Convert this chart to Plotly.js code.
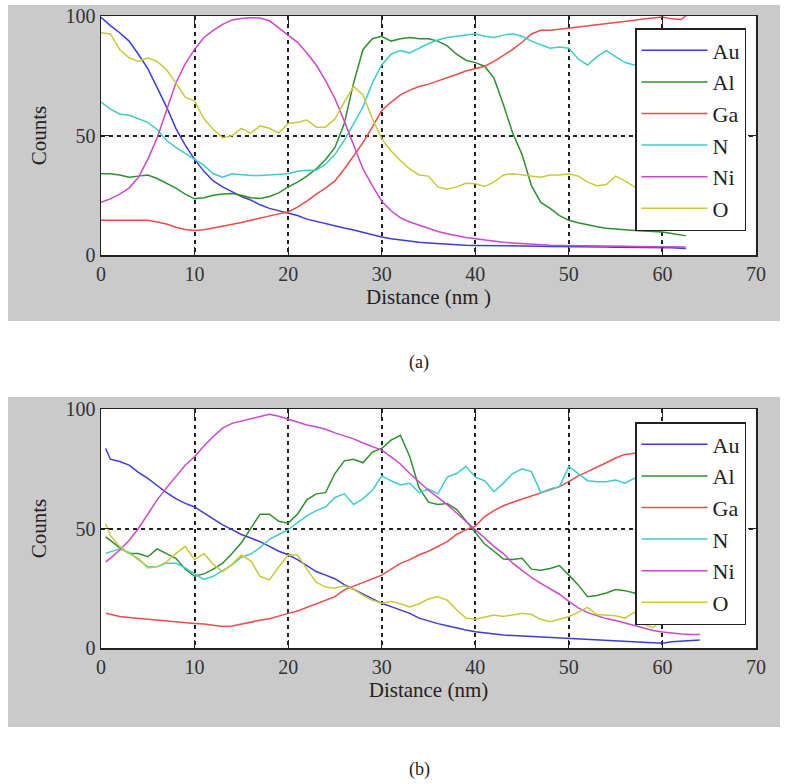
<!DOCTYPE html>
<html>
<head>
<meta charset="utf-8">
<script src="https://cdn.plot.ly/plotly-3.0.1.min.js"></script>
<style>html,body{margin:0;padding:0;background:#fff;}#chart{width:787px;height:784px;}</style>
</head>
<body>
<div id="chart"></div>
<script>
// ---------- data ----------
const elements = ["Au", "Al", "Ga", "N", "Ni", "O"];
const colors = ["#3b3be0", "#2e8f2e", "#ef4a4a", "#3fcccc", "#cc47cc", "#c9c93a"];
const xTicks = [0, 10, 20, 30, 40, 50, 60, 70];
const yTicks = [0, 50, 100];

// panel (a)
const distA = [0,1,2,3,4,5,6,7,8,9,10,11,12,13,14,15,16,17,18,19,20,21,22,23,24,25,26,27,28,29,30,31,32,33,34,35,36,37,38,39,40,41,42,43,44,45,46,47,48,49,50,51,52,53,54,55,56,57,58,59,60,61,62,62.5];
const auA = [99.5,96,93,89.5,84,78,70,62,53,46, 40,35,31,28.5,26.5,24.5,23,21,19.5,18.5, 17.5,16.5,15,14,13,12,11.3,10.5,9.5,8.3, 7.5,6.8,6.2,5.6,5.3,5,4.7,4.5,4.3,4.1, 4,4,3.9,3.9,3.8,3.8,3.7,3.7,3.6,3.6, 3.5,3.4,3.4,3.3,3.3,3.2,3.2,3.2,3.1,3.1, 3,3,2.8,2.7];
const alA = [34,34,33.5,32.5,33,33.5,32,30,28,25.5, 23.5,24,25,25.5,25.7,25,24,23.6,24.5,26, 28.5,30.5,33,36,40,45,55,72,86,90.5, 91.5,89.5,90.5,91,90.5,90.5,89.5,87.5,84,81.5, 80.5,79,74,63,51,42,29,22,19.5,16.5, 14.5,13.5,12.5,11.8,11.2,10.8,10.5,10.3,10,9.8, 9.6,9,8.5,8];
const gaA = [14.5,14.5,14.5,14.5,14.5,14.5,13.8,13,11.6,10.7, 10.3,10.6,11.3,12,12.8,13.6,14.5,15.5,16.4,17.2, 18,20,22.5,25.5,28,31,36,41.5,47,53.5, 60.5,64,67,69,70.5,71.5,72.8,74,75.5,77, 78,79,81,83.5,86,89,92.5,94,94,94.5, 95,95.5,96,96.5,97,97.5,98,98.2,98.7,99.2, 99.6,98.8,98.5,100];
const nA = [64,61,59,58.5,57,55.5,52.5,48,45,42.5, 40.3,37.5,34,32.5,34,33.5,33.3,33.3,33.5,33.5, 34,35,35.5,35.5,38,42,48,55,62,72, 79.5,84,85.5,84.5,86.5,88.5,90,91,91.5,92, 92.6,91.5,91,92,92.6,91.5,89.5,88,86.5,87, 86.5,82,79.5,83,85.5,83,80.5,79.5,79,80, 80,79,80,80];
const niA = [22,23.5,25.5,28,32.5,40,49,60.5,72,80, 86,91,94,96.5,98.3,99,99.3,99.2,98,95, 92,89,84.5,79.5,73,65.5,56,46,36,29, 22.5,18.5,15.5,13.8,12.4,11,9.8,8.9,8,7.3, 6.8,6.2,5.7,5.3,5,4.7,4.5,4.3,4.1,4, 4,3.9,3.9,3.8,3.8,3.7,3.7,3.6,3.6,3.5, 3.5,3.4,3.3,3.3];
const oA = [93,92.5,86,82.5,81,82.5,81,77.5,72,66, 64.5,57,52.5,49,50,53,51,54,53,51, 55,55.5,56.5,53.5,53.5,57,64,70.5,67,57, 48.7,43.5,39.5,36,33.5,33,28.5,27.5,28.5,30, 29.8,28.7,30.5,33.5,34,33.5,33,32.5,33.5,33.5, 34,33,30.5,29,29.5,33,31,28.5,28,27.5, 28,27,27.5,27];

// panel (b)
const distB = [0.5,1,2,3,4,5,6,7,8,9,10,11,12,13,14,15,16,17,18,19,20,21,22,23,24,25,26,27,28,29,30,31,32,33,34,35,36,37,38,39,40,41,42,43,44,45,46,47,48,49,50,51,52,53,54,55,56,57,58,59,60,61,62,63,64];
const auB = [83.5, 79,78,76.5,73.5,71,68,65,62.5,60.5, 59,56.5,54,51.5,49.5,47.5,46,44.5,42.5,40.5, 39,37,34.5,32,30.5,29,26.5,24.5,22.5,20.5, 18.7,17.3,16,14.5,12.5,11.3,10.2,9.3,8.3,7.5, 6.8,6.3,5.7,5.4,5.2,5,4.8,4.6,4.4,4.2, 4,3.8,3.6,3.4,3.3,3.2,3,2.8,2.6,2.3, 2,2.6,2.8,3,3.3];
const alB = [46.5, 45,42,39.5,39.5,38.2,41.5,39.5,37.5,33, 30,31,33,35.5,39.5,44,50,56,56,53, 52.2,56,62,64.5,65,73,78.3,79,77.5,82, 83.5,87,89,80,67,61,60,60.5,58,53, 48,43.5,40.5,37.2,37,37.5,33,32.5,33.3,34.5, 30.5,26.4,21.5,22,23,24.5,24,23,21,19, 17,15,13.5,12,11.5];
const gaB = [14.5, 14,13.2,12.8,12.4,12,11.7,11.3,11,10.7, 10.3,10,9.5,9,9.2,10,11,11.6,12.2,13.5, 14.5,15.5,17,18.5,20,21.5,24.3,25.8,27.2,29, 30.5,33,35.4,37,39,40.5,42.5,44.5,47.5,49.5, 51,55,57.5,59.5,61,62.3,63.5,65,66.3,67.5, 69.6,72,73.8,75.5,77.5,79.5,81,81.5,83,84, 85,86,86.5,87,87.5];
const nB = [39.6, 40.3,41.5,40,37,34,34,35.5,35.5,33.5, 31,28.7,30,32.3,34.8,38,39.3,42,45.5,47.5, 49.4,52.5,55.3,57.5,59,63,64.5,60,62.5,66, 72,70,68.2,68.9,65,66.5,64.5,71.5,73,76, 71.5,70,65.4,69,73,75,73.8,65,66.5,67.5, 76,73,70,69.6,69.6,70.3,69,71,70.5,69, 71,70,69.5,70.5,70];
const niB = [36, 37.5,41,45,50,56,62,67,72,76.5, 80,84.5,88.5,92,94,95,96,96.8,97.8,97, 95.8,94.3,93.3,92.6,91.5,90,88.8,87.5,85.8,84.3, 82.8,80,77,73,69.5,66,63,60,56.5,53, 49.5,46,42.5,39.5,35.5,32.5,29.5,27,24.8,22.5, 19.5,16.8,14.8,13.5,12.3,11.5,10.5,9.5,8.3,7.3, 6.7,6.2,5.9,5.7,5.6];
const oB = [52, 47,42.5,39.5,37.5,33.5,34,36,39.5,42.5, 37,39.5,35,32,35,38.9,36.5,30,28.5,34, 38.9,38.9,33,27.5,25.5,25,26,24.5,22,20, 18.7,19.4,18.5,17.2,18.5,20.5,21.5,20,16,12.5, 12,13,13.8,13.2,14,14.5,14,12,11,12, 13.1,15,17,14,13.8,13.5,12.5,15,10,8.5, 12,14,15,15,15];

const seriesA = [auA, alA, gaA, nA, niA, oA];
const seriesB = [auB, alB, gaB, nB, niB, oB];

// ---------- traces ----------
const traces = [];
elements.forEach((el, i) => {
  traces.push({x: distA, y: seriesA[i], type: "scatter", mode: "lines", name: el,
    xaxis: "x", yaxis: "y", legend: "legend",
    line: {color: colors[i], width: 1.5}});
});
elements.forEach((el, i) => {
  traces.push({x: distB, y: seriesB[i], type: "scatter", mode: "lines", name: el,
    xaxis: "x2", yaxis: "y2", legend: "legend2",
    line: {color: colors[i], width: 1.5}});
});

// ---------- layout ----------
const W = 787, H = 784;
const px = v => v / W;
const py = v => 1 - v / H;
const serif = "'Liberation Serif', 'Times New Roman', serif";

function xAxis(anchor, titleText) {
  return {
    anchor: anchor, domain: [px(101), px(756)], range: [0, 70],
    tickvals: xTicks, ticktext: xTicks.map(String),
    ticks: "inside", ticklen: 8, tickwidth: 1, tickcolor: "#222",
    showline: true, mirror: "ticks", linecolor: "#222", linewidth: 1.5,
    showgrid: true, gridcolor: "#222", gridwidth: 2, griddash: "4px,4px",
    zeroline: false, automargin: false, fixedrange: true,
    tickfont: {family: serif, size: 20, color: "#333"},
    title: {text: titleText, font: {family: serif, size: 21, color: "#222"}, standoff: 6}
  };
}
function yAxis(anchor, top, bottom) {
  return {
    anchor: anchor, domain: [py(bottom), py(top)], range: [0, 100],
    tickvals: yTicks, ticktext: yTicks.map(String),
    ticks: "inside", ticklen: 8, tickwidth: 1, tickcolor: "#222",
    showline: true, mirror: "ticks", linecolor: "#222", linewidth: 1.5,
    showgrid: true, gridcolor: "#222", gridwidth: 2, griddash: "4px,4px",
    zeroline: false, automargin: false, fixedrange: true,
    tickfont: {family: serif, size: 20, color: "#333"},
    title: {text: "Counts", font: {family: serif, size: 21, color: "#222"}, standoff: 13}
  };
}
function legendAt(top) {
  return {
    x: px(635), y: py(top), xanchor: "left", yanchor: "top",
    bgcolor: "#ffffff", bordercolor: "#222", borderwidth: 1.5,
    font: {family: serif, size: 22, color: "#222"},
    itemwidth: 66, tracegroupgap: 0
  };
}

const layout = {
  width: W, height: H,
  margin: {l: 0, r: 0, t: 0, b: 0},
  paper_bgcolor: "#ffffff", plot_bgcolor: "#ffffff",
  font: {family: serif, color: "#222"},
  showlegend: true,
  xaxis: xAxis("y", "Distance (nm )"),
  yaxis: yAxis("x", 16, 255),
  xaxis2: xAxis("y2", "Distance (nm)"),
  yaxis2: yAxis("x2", 409, 648),
  legend: legendAt(28),
  legend2: legendAt(422),
  shapes: [
    {type: "rect", xref: "paper", yref: "paper", x0: px(8), x1: px(780), y0: py(321), y1: py(5),
     fillcolor: "#cacaca", line: {width: 0}, layer: "below"},
    {type: "rect", xref: "paper", yref: "paper", x0: px(8), x1: px(780), y0: py(727), y1: py(397),
     fillcolor: "#cacaca", line: {width: 0}, layer: "below"},
    {type: "rect", xref: "x domain", yref: "y domain", x0: 0, x1: 1, y0: 0, y1: 1,
     fillcolor: "#ffffff", line: {width: 0}, layer: "below"},
    {type: "rect", xref: "x2 domain", yref: "y2 domain", x0: 0, x1: 1, y0: 0, y1: 1,
     fillcolor: "#ffffff", line: {width: 0}, layer: "below"}
  ],
  annotations: [
    {text: "(a)", xref: "paper", yref: "paper", x: px(419), y: py(362), xanchor: "center", yanchor: "middle",
     showarrow: false, font: {family: serif, size: 18, color: "#222"}},
    {text: "(b)", xref: "paper", yref: "paper", x: px(419), y: py(769), xanchor: "center", yanchor: "middle",
     showarrow: false, font: {family: serif, size: 18, color: "#222"}}
  ]
};

Plotly.newPlot("chart", traces, layout, {displayModeBar: false, staticPlot: true});
</script>
</body>
</html>
